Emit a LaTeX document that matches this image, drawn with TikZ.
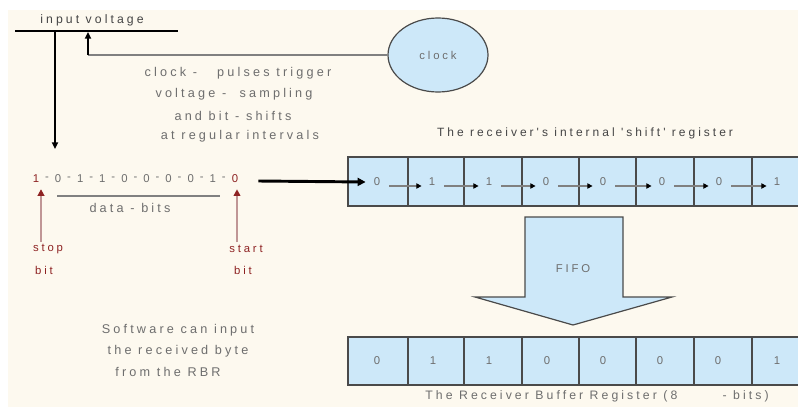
\documentclass[tikz,border=0pt]{standalone}
\usepackage{fontspec}
\setmainfont{Liberation Sans}
\newfontfamily\spfont[LetterSpace=25]{Liberation Sans}
\newfontfamily\bitfont[LetterSpace=8]{Liberation Sans}
\usetikzlibrary{arrows.meta,shapes.geometric,calc}
\definecolor{bgcream}{HTML}{FDF9EF}
\definecolor{regblue}{HTML}{CDE8F9}
\definecolor{txtgray}{HTML}{6E6E6E}
\definecolor{txtdark}{HTML}{454545}
\definecolor{bitred}{HTML}{8E2323}
\definecolor{pinkline}{HTML}{C09696}
\definecolor{edgegray}{HTML}{4A4A4A}
\tikzset{
  lbl/.style={font={\spfont\fontsize{9.5}{11}\selectfont}, text=txtgray, inner sep=0pt},
  lbldark/.style={lbl, text=txtdark},
  redlbl/.style={font={\spfont\fontsize{8.5}{10}\selectfont}, text=bitred, inner sep=0pt},
  digit/.style={font={\fontsize{8.5}{9}\selectfont}, text=txtgray, inner sep=0pt},
  bitdig/.style={font={\bitfont\fontsize{8.5}{10}\selectfont}, text=txtgray, inner sep=0pt},
  blkarrow/.style={line width=1.4pt, -{Triangle[length=5pt,width=4.5pt]}},
  bigarrow/.style={line width=2.2pt, -{Triangle[length=6pt,width=6pt]}},
  redarrow/.style={pinkline, line width=1.3pt, -{Triangle[length=5pt,width=5pt,color=bitred]}},
  smallarrow/.style={gray, line width=1pt, -{Triangle[length=4pt,width=4pt,color=black]}},
  clocknode/.style={ellipse, draw=edgegray, line width=0.9pt, fill=regblue, minimum width=75pt, minimum height=55.5pt, inner sep=0pt, font={\spfont\fontsize{8.5}{10}\selectfont}, text=txtgray},
  regedge/.style={edgegray, line width=1pt},
}
\begin{document}
\begin{tikzpicture}[x=0.75pt,y=-0.75pt]
\fill[white] (0,0) rectangle (798,407);
\useasboundingbox (0,0) rectangle (798,407);
\fill[bgcream] (8,10) rectangle (798,407);

% input voltage bar
\node[lbldark, font={\spfont\fontsize{9.2}{11}\selectfont}] (iv) at (92,20) {input voltage};
\coordinate (barL) at (15,31);
\coordinate (barR) at (178,31);
\draw[line width=1.5pt] (barL) -- (barR);
\coordinate (ivtap) at (55,31);
\coordinate (ivend) at (55,149);
\draw[blkarrow] (ivtap) -- (ivend);

% clock
\node[clocknode] (clk) at (438,55) {clock};
\coordinate (cbend) at (88,55);
\coordinate (ctap) at (88,32);
\draw[gray, line width=1.5pt] (clk.west) -- (cbend);
\draw[blkarrow] (cbend) -- (ctap);

\node[lbl] (c1) at (238,73) {clock -\ \ \ pulses trigger};
\node[lbl] (c2) at (234,94) {voltage -\ \ sampling};
\node[lbl] (c3) at (233,116) {and bit - shifts};
\node[lbl] (c4) at (240,136) {at regular intervals};

% bit string
\foreach \v/\c [count=\i from 0] in {1/bitred,0/txtgray,1/txtgray,1/txtgray,0/txtgray,0/txtgray,0/txtgray,0/txtgray,1/txtgray,0/bitred} {
  \node[bitdig, text=\c] (b\i) at ({36+22.1*\i},179) {\v};
}
\foreach \i in {0,...,8} {
  \node[bitdig] (d\i) at ({47+22.1*\i},179) {-};
}

\coordinate (dlL) at (57,196);
\coordinate (dlR) at (220,196);
\draw[gray, line width=0.9pt] (dlL) -- (dlR);
\node[lbl] (db) at (130,208) {data - bits};

\node[redlbl] (stop) at (48,249) {stop};
\node[redlbl] (stopb) at (44,270) {bit};
\node[redlbl] (start) at (246,249) {start};
\node[redlbl] (startb) at (243,270) {bit};
\coordinate (stopt) at (41,242);
\coordinate (startt) at (237,242);
\draw[redarrow] (stopt) -- ($(stopt |- b0.south)+(0,6)$);
\draw[redarrow] (startt) -- ($(startt |- b9.south)+(0,6)$);

\node[lbl] (sw1) at (178,330) {Software can input};
\node[lbl] (sw2) at (178,351) {the received byte};
\node[lbl] (sw3) at (168,372) {from the RBR};

% shift register
\node[lbldark, font={\spfont\fontsize{9}{11}\selectfont}] (srcap) at (585,133) {The receiver's internal 'shift' register};
\fill[regblue] (348,157) rectangle (798,206);
\draw[regedge] (798,157) -- (348,157) -- (348,206) -- (798,206);
\foreach \x in {408,464,522,579,636,694,752} {
  \draw[regedge] (\x,157) -- (\x,206);
}
\foreach \x/\v [count=\i from 0] in {377/0,432/1,489/1,546/0,603/0,662/0,719/0,777/1} {
  \node[digit] (s\i) at (\x,182) {\v};
}
\foreach \i [evaluate=\i as \j using int(\i+1)] in {0,...,6} {
  \draw[smallarrow] ($(s\i.east)+(9,4)$) -- ($(s\j.west)+(-7,4)$);
}
\draw[bigarrow] ($(b9.east)+(20,2)$) -- ($(s0.west)+(-8,0)$);

% FIFO arrow
\draw[edgegray, line width=0.9pt, fill=regblue]
  (525,217) -- (623,217) -- (623,297) -- (672,297) -- (573,325) -- (475,297) -- (525,297) -- cycle;
\node[lbl, font={\spfont\fontsize{8.5}{10}\selectfont}] (fifo) at (573,269) {FIFO};

% receiver buffer register
\fill[regblue] (348,337) rectangle (798,385);
\draw[regedge] (798,337) -- (348,337) -- (348,385) -- (798,385);
\foreach \x in {408,464,522,579,636,694,752} {
  \draw[regedge] (\x,337) -- (\x,385);
}
\foreach \x/\v [count=\i from 0] in {377/0,433/1,489/1,547/0,603/0,660/0,718/0,777/1} {
  \node[digit] (r\i) at (\x,361) {\v};
}
\node[lbl, font={\spfont\fontsize{9.2}{11}\selectfont}] (rbcap) at (597,396) {The Receiver Buffer Register (8\ \ \ \ \ \ \ - bits)};
\end{tikzpicture}
\end{document}
